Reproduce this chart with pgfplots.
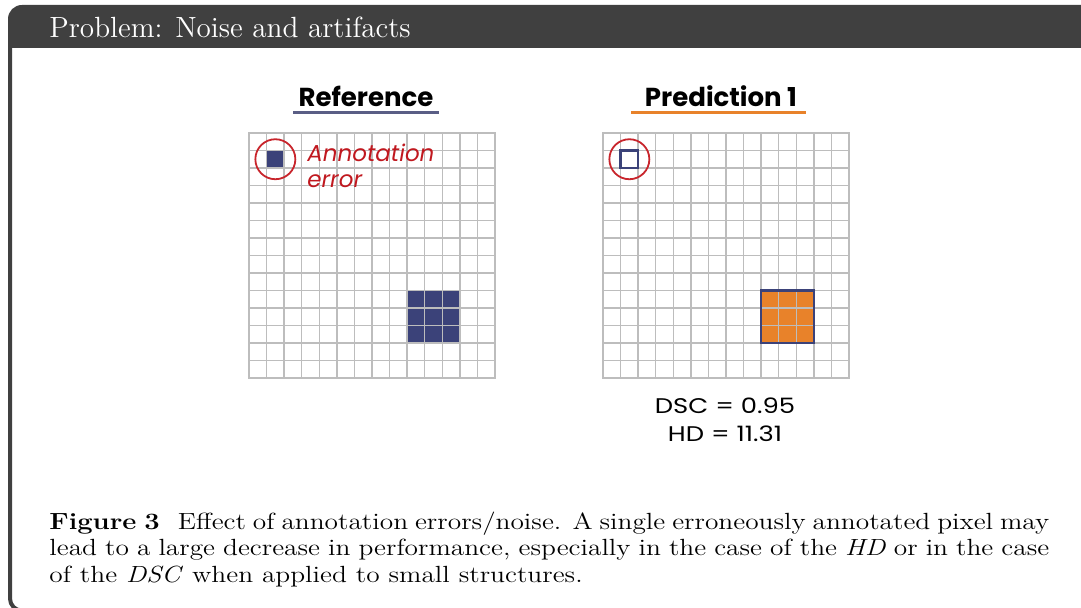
\documentclass[border=0pt]{standalone}
\usepackage{pgfplots}
\pgfplotsset{compat=1.18}
\usepackage{graphicx}
\usepackage{fontspec}
\newfontfamily\pop{Poppins}
\definecolor{navy}{HTML}{3B4279}
\definecolor{orng}{HTML}{E8822A}
\definecolor{redc}{HTML}{C8252C}
\definecolor{redt}{HTML}{C0181F}
\definecolor{gridgray}{HTML}{BDBDBD}
\definecolor{hdr}{HTML}{404040}
\definecolor{ulref}{HTML}{5A5E85}
\pgfplotsset{
  gridax/.style={scale only axis, width=123pt, height=122.5pt,
    xmin=0, xmax=14, ymin=0, ymax=14,
    xtick={0,...,14}, ytick={0,...,14},
    xticklabels={}, yticklabels={}, major tick length=0pt,
    tick label style={text opacity=0},
    grid=major, grid style={draw=gridgray, line width=0.7pt},
    axis line style={draw=gridgray, line width=0.8pt},
    axis on top, clip=false, anchor=south west},
  overax/.style={scale only axis, width=123pt, height=122.5pt,
    xmin=0, xmax=14, ymin=0, ymax=14, axis lines=none,
    clip=false, anchor=south west}
}
\begin{document}
\begin{tikzpicture}
\useasboundingbox (0pt,0pt) rectangle (540.5pt,304pt);
% frame
\begin{scope}
\clip (0pt,0pt) rectangle (540.5pt,304pt);
\draw[hdr, line width=2pt, rounded corners=6pt] (5pt,290pt) -- (5pt,-1.3pt) -- (600pt,-1.3pt);
\fill[hdr] (4pt,280pt) [rounded corners=7pt] -- (4pt,301.5pt) -- (600pt,301.5pt) [sharp corners] -- (600pt,280pt) -- cycle;
\end{scope}
\node[anchor=base west, text=white, inner sep=0pt, font=\fontsize{14.6}{17}\selectfont] at (24.5pt,285.3pt) {Problem: Noise and artifacts};

% Reference panel
\begin{axis}[gridax, at={(124.5pt,115pt)}]
\addplot[fill=navy, draw=navy, line width=0.5pt] coordinates {(9,2) (12,2) (12,5) (9,5)} -- cycle;
\addplot[fill=navy, draw=navy, line width=0.9pt] coordinates {(1,12) (2,12) (2,13) (1,13)} -- cycle;
\end{axis}
\begin{axis}[overax, at={(124.5pt,115pt)}]
\addplot[only marks, mark=o, mark size=10pt, mark options={draw=redc, line width=0.9pt}] coordinates {(1.5,12.5)};
\end{axis}

% Prediction panel
\begin{axis}[gridax, at={(301.5pt,115pt)}]
\addplot[fill=orng, draw=none] coordinates {(9,2) (12,2) (12,5) (9,5)} -- cycle;
\end{axis}
\begin{axis}[overax, at={(301.5pt,115pt)}]
\addplot[draw=navy, line width=1.2pt] coordinates {(9,2) (12,2) (12,5) (9,5)} -- cycle;
\addplot[draw=navy, line width=1.3pt] coordinates {(1,12) (2,12) (2,13) (1,13)} -- cycle;
\addplot[only marks, mark=o, mark size=10pt, mark options={draw=redc, line width=0.9pt}] coordinates {(1.5,12.5)};
\end{axis}

% titles
\node[anchor=base, inner sep=0pt, font=\pop\bfseries\fontsize{13}{15}\selectfont] at (183pt,250.7pt) {Reference};
\draw[ulref, line width=1.5pt] (146.5pt,247.5pt) -- (219.5pt,247.5pt);
\node[anchor=base, inner sep=0pt, font=\pop\bfseries\fontsize{13}{15}\selectfont] at (360.5pt,250.7pt) {Prediction 1};
\draw[orng, line width=1.5pt] (315.5pt,247.5pt) -- (403pt,247.5pt);

% annotation
\node[anchor=base west, inner sep=0pt, text=redt, font=\pop\itshape\fontsize{11.5}{13}\selectfont] at (153.5pt,223pt) {Annotation};
\node[anchor=base west, inner sep=0pt, text=redt, font=\pop\itshape\fontsize{11.5}{13}\selectfont] at (153.5pt,210pt) {error};

% metrics
\node[anchor=base, inner sep=0pt, font=\pop\fontsize{10.6}{13}\selectfont] at (362.5pt,97pt) {\scalebox{1.22}[1]{DSC = 0.95}};
\node[anchor=base, inner sep=0pt, font=\pop\fontsize{10.6}{13}\selectfont] at (362.5pt,83pt) {\scalebox{1.22}[1]{HD = 11.31}};

% caption
\node[anchor=north west, inner sep=0pt] at (24.5pt,48.3pt)
{\scalebox{1.17}[1]{\parbox[t]{427.3pt}{\fontsize{11.7}{13.25}\selectfont\noindent\textbf{Figure 3}\hspace{7.7pt}Effect of annotation errors/noise. A single erroneously annotated pixel may\linebreak lead to a large decrease in performance, especially in the case of the \textit{HD} or in the case\linebreak of the \textit{DSC} when applied to small structures.}}};
\end{tikzpicture}
\end{document}
